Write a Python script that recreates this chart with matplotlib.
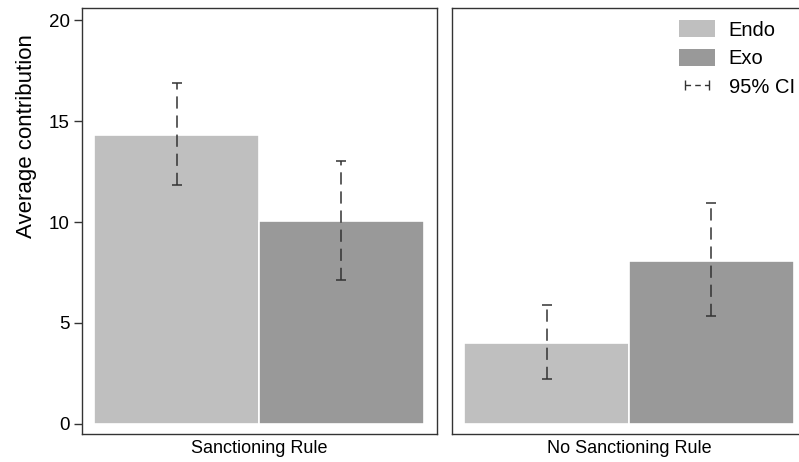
import matplotlib
matplotlib.use("Agg")
import matplotlib.pyplot as plt
from matplotlib.patches import Patch
from matplotlib.lines import Line2D

plt.rcParams['font.family'] = ['Liberation Sans', 'DejaVu Sans']

panels = ["Sanctioning Rule", "No Sanctioning Rule"]
groups = ["Endo", "Exo"]
means = [[14.3, 10.05], [4.0, 8.07]]
ci_low = [[11.83, 7.13], [2.23, 5.35]]
ci_high = [[16.88, 13.0], [5.89, 10.93]]
colors = ["#bfbfbf", "#999999"]

fig = plt.figure(figsize=(7.99, 4.62), dpi=100)
W, H = 799, 462
boxes = [(82, 8, 437, 434), (452, 8, 807, 434)]

for i, (name, box) in enumerate(zip(panels, boxes)):
    x0, y0, x1, y1 = box
    ax = fig.add_axes([x0 / W, (H - y1) / H, (x1 - x0) / W, (y1 - y0) / H])
    pos = [-0.5, 0.5]
    ax.bar(pos, means[i], width=1.0, color=colors, edgecolor="white", linewidth=1.2)
    for p, m, lo, hi in zip(pos, means[i], ci_low[i], ci_high[i]):
        eb = ax.errorbar(p, m, yerr=[[m - lo], [hi - m]], fmt="none", ecolor="#333333",
                         elinewidth=1.1, capsize=3.5, capthick=1.1)
        eb[2][0].set_linestyle((0, (8, 4.5)))
    ax.set_xlim(-1.075, 1.08)
    ax.set_ylim(-0.5, 20.6)
    ax.set_xticks([])
    ax.set_xlabel(name, fontsize=13, labelpad=4)
    for s in ax.spines.values():
        s.set_color("#333333")
        s.set_linewidth(1.0)
    if i == 0:
        ax.set_yticks([0, 5, 10, 15, 20])
        ax.tick_params(axis="y", labelsize=13.5, length=6, width=1, color="#333333", pad=3)
        ax.set_ylabel("Average contribution", fontsize=16)
        ax.yaxis.set_label_coords(-0.128, 0.70)
    else:
        ax.set_yticks([])
        handles = [Patch(facecolor=colors[0], edgecolor="none"),
                   Patch(facecolor=colors[1], edgecolor="none"),
                   Line2D([], [], color="#333333", linestyle=(0, (4, 3)), linewidth=1,
                          marker="|", markersize=7)]
        leg = ax.legend(handles, groups + ["95% CI"], loc="upper right", frameon=False,
                        fontsize=14.5, numpoints=2, handlelength=1.75, handleheight=0.95,
                        handletextpad=0.7, borderaxespad=0.2, bbox_to_anchor=(1.0, 1.0),
                        labelspacing=0.45)

fig.savefig("out.png", dpi=100)
